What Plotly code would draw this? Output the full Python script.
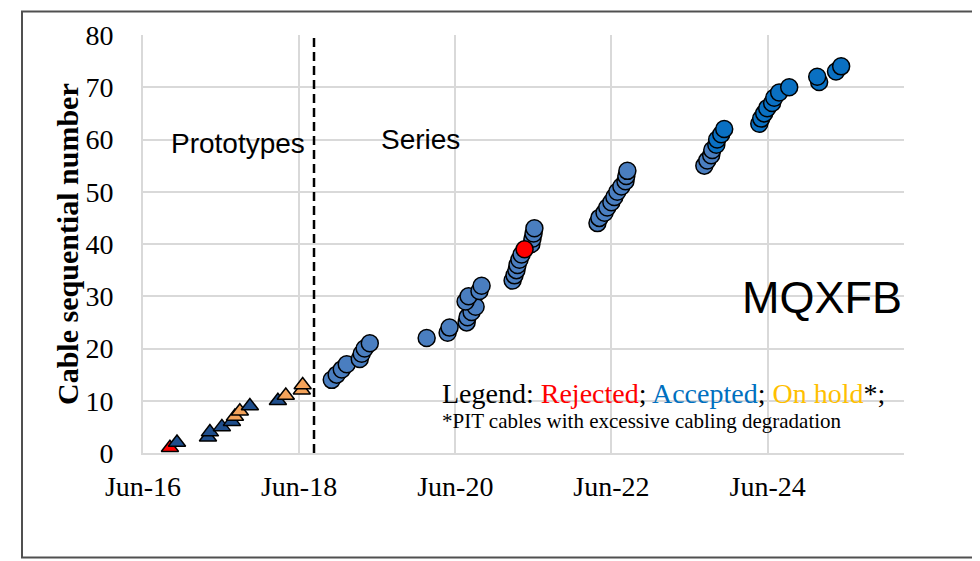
######################################
# Libraries
######################################

import plotly.graph_objects as go

######################################
# Data
######################################

# prototype cables (triangles)
proto_dates = ["2016-10-05", "2016-11-07", "2017-04-01", "2017-04-10", "2017-06-05",
               "2017-07-22", "2017-08-05", "2017-08-28", "2017-10-14", "2018-02-22",
               "2018-03-31", "2018-06-14", "2018-06-18"]
proto_numbers = [1, 2, 3, 4, 5, 6, 7, 8, 9, 10, 11, 12, 13]
proto_status = ["rejected", "accepted", "accepted", "accepted", "accepted",
                "accepted", "hold", "hold", "accepted", "accepted",
                "hold", "hold", "hold"]

# series cables (circles)
series_dates = ["2018-11-01", "2018-11-24", "2018-12-18", "2019-01-10", "2019-03-12",
                "2019-03-21", "2019-04-04", "2019-04-28", "2020-01-19", "2020-04-26",
                "2020-05-05", "2020-07-24", "2020-07-28", "2020-08-16", "2020-09-04",
                "2020-07-19", "2020-08-02", "2020-09-22", "2020-10-02", "2021-02-24",
                "2021-03-05", "2021-03-14", "2021-03-19", "2021-03-28", "2021-04-07",
                "2021-04-21", "2021-05-23", "2021-05-28", "2021-06-02", "2021-06-06",
                "2022-03-28", "2022-04-06", "2022-04-30", "2022-05-13", "2022-06-01",
                "2022-06-15", "2022-06-29", "2022-07-18", "2022-08-06", "2022-08-10",
                "2022-08-15", "2023-08-10", "2023-08-24", "2023-09-11", "2023-09-16",
                "2023-10-05", "2023-10-09", "2023-10-28", "2023-11-11", "2024-04-23",
                "2024-05-02", "2024-05-16", "2024-05-30", "2024-06-22", "2024-07-02",
                "2024-07-25", "2024-09-10", "2025-01-28", "2025-01-19", "2025-04-17",
                "2025-05-11"]
series_numbers = list(range(14, 75))
series_rejected = [39]

divider_date = "2018-08-10"
x_range = ["2016-06-01", "2026-03-01"]
tick_dates = ["2016-06-01", "2018-06-01", "2020-06-01", "2022-06-01", "2024-06-01"]
tick_labels = ["Jun-16", "Jun-18", "Jun-20", "Jun-22", "Jun-24"]
y_ticks = [0, 10, 20, 30, 40, 50, 60, 70, 80]

######################################
# Figure
######################################

serif = "Liberation Serif, Times New Roman, serif"
sans = "Liberation Sans, Arial, sans-serif"
status_colors = {"rejected": "#FF0000", "accepted": "#1F4E8C", "hold": "#F4A35A"}

fig = go.Figure()

fig.add_trace(go.Scatter(
    x=proto_dates, y=proto_numbers, mode="markers", cliponaxis=False,
    marker=dict(symbol="triangle-up", size=15,
                color=[status_colors[s] for s in proto_status],
                line=dict(color="black", width=1.5)),
    showlegend=False))

acc = [(d, n) for d, n in zip(series_dates, series_numbers) if n not in series_rejected]
rej = [(d, n) for d, n in zip(series_dates, series_numbers) if n in series_rejected]

fig.add_trace(go.Scatter(
    x=[d for d, n in acc], y=[n for d, n in acc], mode="markers", cliponaxis=False,
    marker=dict(symbol="circle", size=17,
                color=["#4A7EC0" if n < 59 else "#0A70C2" for d, n in acc],
                line=dict(color="black", width=1.5)),
    showlegend=False))

fig.add_trace(go.Scatter(
    x=[d for d, n in rej], y=[n for d, n in rej], mode="markers", cliponaxis=False,
    marker=dict(symbol="circle", size=17, color="#FF0000",
                line=dict(color="black", width=1.5)),
    showlegend=False))

# prototype / series divider
fig.add_shape(type="line", xref="x", yref="paper", x0=divider_date, x1=divider_date,
              y0=0, y1=1, line=dict(color="black", width=2.5, dash="9px,5px"))

# outer frame
fig.add_shape(type="rect", xref="paper", yref="paper", x0=-0.159, x1=1.0907,
              y0=-0.25, y1=1.056, line=dict(color="#505050", width=2))

def label(text, x, y, font, xanchor="center", angle=0):
    fig.add_annotation(text=text, xref="paper", yref="paper", x=x, y=y,
                       xanchor=xanchor, yanchor="middle", textangle=angle,
                       showarrow=False, font=font)

label("Prototypes", 0.1248, 0.7405, dict(family=sans, size=28, color="black"))
label("Series", 0.3653, 0.75, dict(family=sans, size=28, color="black"))
label("MQXFB", 0.8922, 0.3714, dict(family=sans, size=45, color="black"))
label("Legend: <span style='color:#FF0000'>Rejected</span>; "
      "<span style='color:#0070C0'>Accepted</span>; "
      "<span style='color:#FFC000'>On hold</span>*;",
      0.3903, 0.1429, dict(family=serif, size=28, color="black"), xanchor="left")
label("*PIT cables with excessive cabling degradation", 0.3903, 0.0762,
      dict(family=serif, size=21, color="black"), xanchor="left")
label("<b>Cable sequential number</b>", -0.0999, 0.5,
      dict(family=serif, size=30, color="black"), angle=-90)

# page body adds 8px offset, so margins are shifted to compensate
fig.update_layout(
    width=980, height=561,
    margin=dict(l=135, r=84, t=25, b=116),
    paper_bgcolor="white", plot_bgcolor="white",
    xaxis=dict(type="date", range=x_range, tickvals=tick_dates, ticktext=tick_labels,
               showgrid=True, gridcolor="#D9D9D9", gridwidth=2,
               showline=True, linecolor="#D9D9D9", linewidth=2,
               ticks="outside", ticklen=7, tickcolor="rgba(0,0,0,0)",
               tickfont=dict(family=serif, size=28, color="black"), zeroline=False),
    yaxis=dict(range=[0, 80], tickvals=y_ticks,
               showgrid=True, gridcolor="#D9D9D9", gridwidth=2,
               showline=True, linecolor="#D9D9D9", linewidth=2,
               ticks="outside", ticklen=22, tickcolor="rgba(0,0,0,0)",
               tickfont=dict(family=serif, size=28, color="black"), zeroline=False),
)

fig.write_html("out.html")
